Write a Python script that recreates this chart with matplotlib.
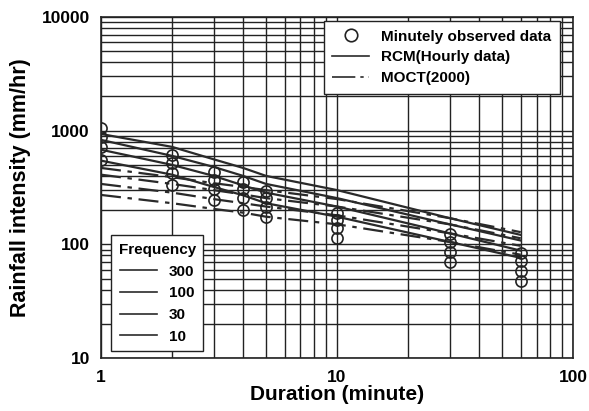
import matplotlib
matplotlib.use("Agg")
import matplotlib.pyplot as plt
from matplotlib.lines import Line2D

plt.rcParams['font.family'] = ['Liberation Sans', 'DejaVu Sans']
plt.rcParams['font.weight'] = 'bold'

# durations (minute)
durations = [1, 2, 3, 4, 5, 10, 30, 60]
frequencies = ["300", "100", "30", "10"]

# minutely observed data, per frequency (300, 100, 30, 10)
obs_300 = [1055, 610, 432, 353, 294, 188, 123, 84]
obs_100 = [879, 519, 368, 306, 255, 164, 105, 71]
obs_30 = [718, 424, 306, 255, 213, 139, 86, 58]
obs_10 = [551, 332, 245, 200, 174, 113, 70, 47.5]

# RCM (hourly data)
rcm_300 = [935, 720, 560, 470, 400, 300, 170, 121]
rcm_100 = [830, 600, 480, 400, 340, 255, 150, 108]
rcm_30 = [680, 500, 400, 330, 285, 215, 125, 88]
rcm_10 = [545, 410, 320, 270, 230, 175, 105, 76]

# MOCT(2000)
moct_300 = [470, 390, 345, 320, 300, 250, 170, 128]
moct_100 = [410, 340, 300, 275, 255, 215, 150, 113]
moct_30 = [340, 285, 250, 230, 215, 180, 125, 97]
moct_10 = [272, 230, 205, 190, 175, 150, 105, 81]

obs = [obs_300, obs_100, obs_30, obs_10]
rcm = [rcm_300, rcm_100, rcm_30, rcm_10]
moct = [moct_300, moct_100, moct_30, moct_10]

line_col = "#2a2a2a"
dashdot = (0, (9, 3, 2, 3))

fig = plt.figure(figsize=(5.89, 4.11), dpi=100)
ax = fig.add_axes([0.1715, 0.129, 0.8015, 0.8296])

for r in rcm:
    ax.plot(durations, r, color=line_col, lw=1.6)
for m in moct:
    ax.plot(durations, m, color=line_col, lw=1.6, linestyle=dashdot)
for o in obs:
    ax.plot(durations, o, linestyle="none", marker="o", ms=8, mfc="none",
            mec="#222222", mew=1.2)

ax.set_xscale("log")
ax.set_yscale("log")
ax.set_xlim(1, 100)
ax.set_ylim(10, 10000)
ax.grid(True, which="both", color="#222222", lw=1.0)
ax.tick_params(which="both", length=0)
ax.tick_params(axis="x", pad=9)
ax.tick_params(axis="y", pad=8)
ax.set_xticks([1, 10, 100])
ax.set_xticklabels(["1", "10", "100"], fontsize=12.5, fontweight="bold")
ax.set_yticks([10, 100, 1000, 10000])
ax.set_yticklabels(["10", "100", "1000", "10000"], fontsize=12.5, fontweight="bold")
ax.minorticks_on()
ax.tick_params(which="minor", labelbottom=False, labelleft=False)
for s in ax.spines.values():
    s.set_color("#222222")
    s.set_linewidth(1.2)

ax.set_xlabel("Duration (minute)", fontsize=15, fontweight="bold", labelpad=0)
ax.set_ylabel("Rainfall intensity (mm/hr)", fontsize=15.5, fontweight="bold", labelpad=8)

h1 = [
    Line2D([], [], linestyle="none", marker="o", ms=9, mfc="none", mec="#222222", mew=1.2),
    Line2D([], [], color=line_col, lw=1.2),
    Line2D([], [], color=line_col, lw=1.2, linestyle=(0, (14, 3, 2, 3))),
]
leg1 = ax.legend(h1, ["Minutely observed data", "RCM(Hourly data)", "MOCT(2000)"],
                 loc="upper right", bbox_to_anchor=(0.972, 0.988), borderaxespad=0,
                 fancybox=False, framealpha=1, edgecolor="#222222",
                 prop={"size": 11, "weight": "bold"},
                 handlelength=2.4, labelspacing=0.45, borderpad=0.55)
leg1.get_frame().set_linewidth(1.0)
ax.add_artist(leg1)

h2 = [Line2D([], [], color=line_col, lw=1.2) for _ in frequencies]
leg2 = ax.legend(h2, frequencies, title="Frequency", loc="lower left",
                 bbox_to_anchor=(0.021, 0.02), borderaxespad=0, fancybox=False,
                 framealpha=1, edgecolor="#222222", prop={"size": 11, "weight": "bold"},
                 title_fontproperties={"size": 11, "weight": "bold"},
                 handlelength=2.4, labelspacing=0.5, borderpad=0.5)
leg2.get_frame().set_linewidth(1.0)

fig.savefig("out.png", dpi=100)
